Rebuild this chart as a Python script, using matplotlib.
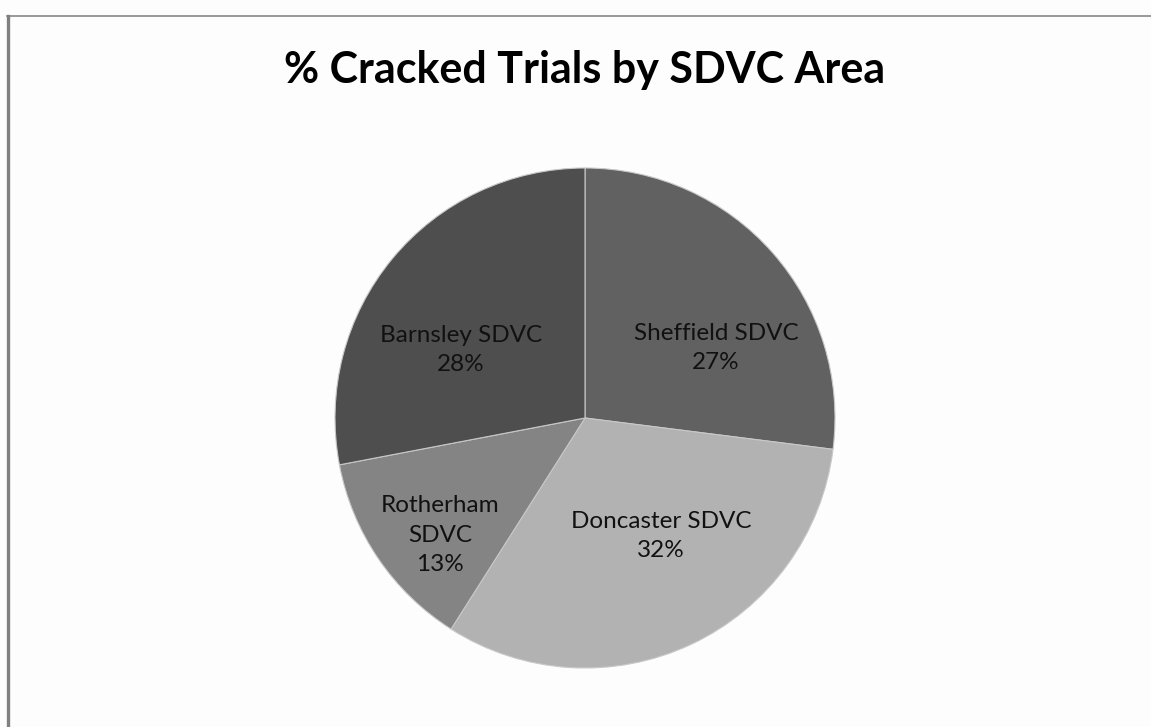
import matplotlib
matplotlib.use("Agg")
import matplotlib.pyplot as plt
from matplotlib.lines import Line2D

title = "% Cracked Trials by SDVC Area"
categories = ["Sheffield SDVC", "Doncaster SDVC", "Rotherham\nSDVC", "Barnsley SDVC"]
values = [27, 32, 13, 28]
colors = ["#616161", "#b2b2b2", "#848484", "#4e4e4e"]

W, H = 1151, 727
fig = plt.figure(figsize=(W / 100, H / 100), dpi=100)
fig.patch.set_facecolor("#fdfdfd")

cx, cy, r = 585, 418, 250
ax = fig.add_axes([(cx - r) / W, (H - cy - r) / H, 2 * r / W, 2 * r / H])
wedges, _ = ax.pie(values, colors=colors, startangle=90, counterclock=False,
                   radius=1, wedgeprops=dict(edgecolor="#c8c8c8", linewidth=0.8))
ax.set_xlim(-1, 1)
ax.set_ylim(-1, 1)
ax.set_aspect("equal")
ax.axis("off")

# label positions (in pie radius units) like Excel's best-fit placement
label_pos = [(0.524, 0.28), (0.304, -0.472), (-0.58, -0.468), (-0.496, 0.272)]
total = sum(values)
for (x, y), cat, v in zip(label_pos, categories, values):
    ax.text(x, y, f"{cat}\n{round(100 * v / total)}%", ha="center", va="center",
            fontsize=17.5, family="Lato", color="#111111", linespacing=1.5)

fig.text(585 / W, 1 - 70 / H, title, ha="center", va="center",
         fontsize=31, fontweight="bold", family="Lato", color="#000000")

# chart frame (top and left edges visible)
fig.add_artist(Line2D([7 / W, 1], [1 - 16 / H, 1 - 16 / H], transform=fig.transFigure,
                      color="#888888", linewidth=1.2))
fig.add_artist(Line2D([8 / W, 8 / W], [1 - 16 / H, 0], transform=fig.transFigure,
                      color="#808080", linewidth=2.4))

fig.savefig("out.png", dpi=100, facecolor=fig.get_facecolor())
